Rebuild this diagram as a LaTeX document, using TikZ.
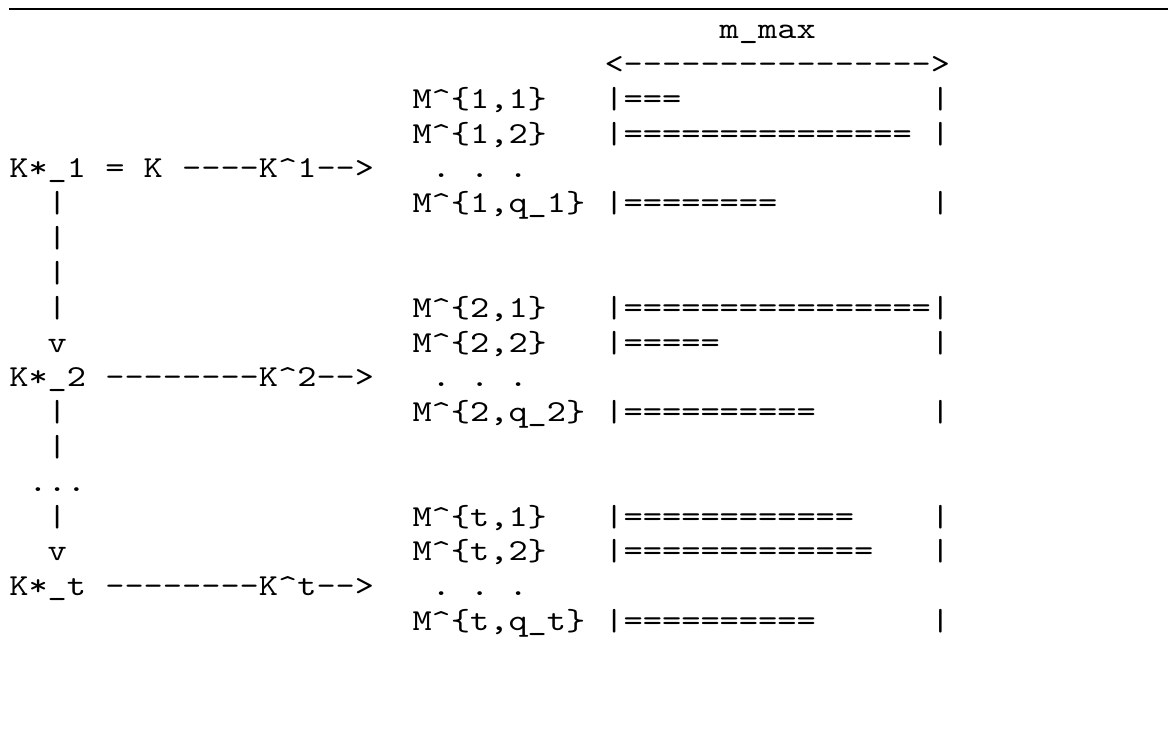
\documentclass[tikz,border=0pt]{standalone}
\usepackage{fontspec}
\setmonofont{lmmono10-regular}[Extension=.otf, FakeStretch=1.2]
\tikzset{txt/.style={anchor=base west, inner sep=0pt, outer sep=0pt, text=black,
  font=\ttfamily\fontsize{22.86}{27}\selectfont},
  rulestyle/.style={draw=black, line width=1.1pt}}
% column, row, name, text
\newcommand\asc[4]{\node[txt] (#3) at ({9.3+19.2*(#1)},{4+34.8*((#2)+1)}) {#4};}
\begin{document}
\begin{tikzpicture}[x=0.75pt,y=-0.75pt]
\useasboundingbox[fill=white] (0,0) rectangle (1168,731);
\coordinate (ruleL) at (9.3,9);
\coordinate (ruleR) at (1168,9);
\draw[rulestyle] (ruleL) -- (ruleR);
\asc{37}{0}{mmax}{m\_max}
\asc{31}{1}{arr}{<---------------->}
% block 1
\asc{21}{2}{m11}{M\textasciicircum\{1,1\}}
\asc{31}{2}{b11}{|===}
\asc{48}{2}{e11}{|}
\asc{21}{3}{m12}{M\textasciicircum\{1,2\}}
\asc{31}{3}{b12}{|===============}
\asc{48}{3}{e12}{|}
\asc{0}{4}{k1}{K*\_1 = K ----K\textasciicircum 1-->}
\asc{22}{4}{d1}{. . .}
\asc{2}{5}{v1a}{|}
\asc{21}{5}{m1q}{M\textasciicircum\{1,q\_1\}}
\asc{31}{5}{b1q}{|========}
\asc{48}{5}{e1q}{|}
\asc{2}{6}{v1b}{|}
\asc{2}{7}{v1c}{|}
% block 2
\asc{2}{8}{v1d}{|}
\asc{21}{8}{m21}{M\textasciicircum\{2,1\}}
\asc{31}{8}{b21}{|================}
\asc{48}{8}{e21}{|}
\asc{2}{9}{v1e}{v}
\asc{21}{9}{m22}{M\textasciicircum\{2,2\}}
\asc{31}{9}{b22}{|=====}
\asc{48}{9}{e22}{|}
\asc{0}{10}{k2}{K*\_2 --------K\textasciicircum 2-->}
\asc{22}{10}{d2}{. . .}
\asc{2}{11}{v2a}{|}
\asc{21}{11}{m2q}{M\textasciicircum\{2,q\_2\}}
\asc{31}{11}{b2q}{|==========}
\asc{48}{11}{e2q}{|}
\asc{2}{12}{v2b}{|}
\asc{1}{13}{dots}{...}
% block t
\asc{2}{14}{v2c}{|}
\asc{21}{14}{mt1}{M\textasciicircum\{t,1\}}
\asc{31}{14}{bt1}{|============}
\asc{48}{14}{et1}{|}
\asc{2}{15}{v2d}{v}
\asc{21}{15}{mt2}{M\textasciicircum\{t,2\}}
\asc{31}{15}{bt2}{|=============}
\asc{48}{15}{et2}{|}
\asc{0}{16}{kt}{K*\_t --------K\textasciicircum t-->}
\asc{22}{16}{dt}{. . .}
\asc{21}{17}{mtq}{M\textasciicircum\{t,q\_t\}}
\asc{31}{17}{btq}{|==========}
\asc{48}{17}{etq}{|}
\end{tikzpicture}
\end{document}
